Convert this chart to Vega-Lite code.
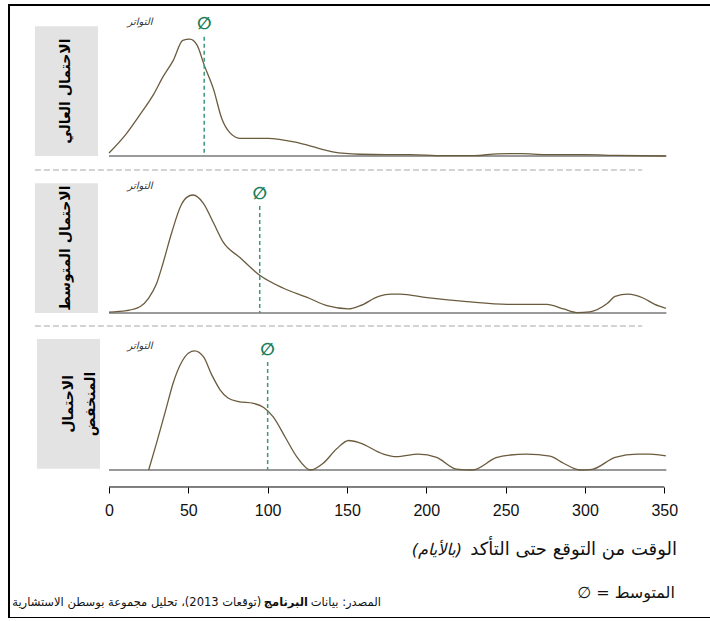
{
  "$schema": "https://vega.github.io/schema/vega-lite/v6.json",
  "width": 705,
  "height": 613,
  "autosize": {"type": "none"},
  "padding": {"left": 9, "top": 5, "right": 0, "bottom": 0},
  "background": "white",
  "config": {
    "view": {"stroke": "#000000", "strokeWidth": 2},
    "font": "Liberation Sans, DejaVu Sans",
    "text": {"font": "DejaVu Sans"}
  },
  "datasets": {
    "panels": [
      {"panel": "high", "label": "الاحتمال العالي", "mean": 60, "top": 1.01},
      {"panel": "med", "label": "الاحتمال المتوسط", "mean": 95, "top": 0.907},
      {"panel": "low", "label": "الاحتمال\nالمنخفض", "mean": 100, "top": 0.915}
    ],
    "curves": [
      {"panel": "high", "day": 0, "freq": 0.025},
      {"panel": "high", "day": 11, "freq": 0.19},
      {"panel": "high", "day": 19.5, "freq": 0.35},
      {"panel": "high", "day": 28, "freq": 0.52},
      {"panel": "high", "day": 34, "freq": 0.67},
      {"panel": "high", "day": 40.5, "freq": 0.81},
      {"panel": "high", "day": 46.5, "freq": 0.98},
      {"panel": "high", "day": 51, "freq": 0.99},
      {"panel": "high", "day": 55.5, "freq": 0.94},
      {"panel": "high", "day": 60, "freq": 0.77},
      {"panel": "high", "day": 66, "freq": 0.56},
      {"panel": "high", "day": 71, "freq": 0.32},
      {"panel": "high", "day": 76, "freq": 0.2},
      {"panel": "high", "day": 82.5, "freq": 0.15},
      {"panel": "high", "day": 100, "freq": 0.15},
      {"panel": "high", "day": 120, "freq": 0.11},
      {"panel": "high", "day": 141, "freq": 0.035},
      {"panel": "high", "day": 158, "freq": 0.015},
      {"panel": "high", "day": 175, "freq": 0.012},
      {"panel": "high", "day": 190, "freq": 0.012},
      {"panel": "high", "day": 210, "freq": 0.003},
      {"panel": "high", "day": 230, "freq": 0.003},
      {"panel": "high", "day": 245, "freq": 0.018},
      {"panel": "high", "day": 260, "freq": 0.02},
      {"panel": "high", "day": 275, "freq": 0.012},
      {"panel": "high", "day": 300, "freq": 0.012},
      {"panel": "high", "day": 320, "freq": 0.005},
      {"panel": "high", "day": 351, "freq": 0.0},
      {"panel": "med", "day": 0, "freq": 0.008},
      {"panel": "med", "day": 11, "freq": 0.02},
      {"panel": "med", "day": 19.5, "freq": 0.053},
      {"panel": "med", "day": 25, "freq": 0.127},
      {"panel": "med", "day": 30, "freq": 0.25},
      {"panel": "med", "day": 34, "freq": 0.42},
      {"panel": "med", "day": 39.5, "freq": 0.68},
      {"panel": "med", "day": 45.5, "freq": 0.915},
      {"panel": "med", "day": 49, "freq": 0.98},
      {"panel": "med", "day": 53, "freq": 1.0},
      {"panel": "med", "day": 59.5, "freq": 0.93},
      {"panel": "med", "day": 66, "freq": 0.76},
      {"panel": "med", "day": 72, "freq": 0.6},
      {"panel": "med", "day": 82.5, "freq": 0.47},
      {"panel": "med", "day": 95, "freq": 0.32},
      {"panel": "med", "day": 110, "freq": 0.21},
      {"panel": "med", "day": 124.5, "freq": 0.135},
      {"panel": "med", "day": 138, "freq": 0.06},
      {"panel": "med", "day": 151, "freq": 0.035},
      {"panel": "med", "day": 158, "freq": 0.06},
      {"panel": "med", "day": 170, "freq": 0.14},
      {"panel": "med", "day": 177.5, "freq": 0.16},
      {"panel": "med", "day": 183.5, "freq": 0.16},
      {"panel": "med", "day": 200.5, "freq": 0.13},
      {"panel": "med", "day": 225.5, "freq": 0.096},
      {"panel": "med", "day": 251, "freq": 0.073},
      {"panel": "med", "day": 276, "freq": 0.073},
      {"panel": "med", "day": 286.5, "freq": 0.034},
      {"panel": "med", "day": 295, "freq": 0.003},
      {"panel": "med", "day": 303, "freq": 0.01},
      {"panel": "med", "day": 314, "freq": 0.08},
      {"panel": "med", "day": 319, "freq": 0.14},
      {"panel": "med", "day": 327, "freq": 0.16},
      {"panel": "med", "day": 337, "freq": 0.125},
      {"panel": "med", "day": 344, "freq": 0.073},
      {"panel": "med", "day": 351, "freq": 0.04},
      {"panel": "low", "day": 25, "freq": 0.0},
      {"panel": "low", "day": 30, "freq": 0.23},
      {"panel": "low", "day": 36, "freq": 0.52},
      {"panel": "low", "day": 40.5, "freq": 0.74},
      {"panel": "low", "day": 46, "freq": 0.92},
      {"panel": "low", "day": 50, "freq": 0.99},
      {"panel": "low", "day": 54, "freq": 1.01},
      {"panel": "low", "day": 59.5, "freq": 0.96},
      {"panel": "low", "day": 65, "freq": 0.8},
      {"panel": "low", "day": 70, "freq": 0.68},
      {"panel": "low", "day": 75, "freq": 0.61},
      {"panel": "low", "day": 81.5, "freq": 0.58},
      {"panel": "low", "day": 91, "freq": 0.565},
      {"panel": "low", "day": 97.5, "freq": 0.53},
      {"panel": "low", "day": 103.5, "freq": 0.45},
      {"panel": "low", "day": 111, "freq": 0.28},
      {"panel": "low", "day": 118.5, "freq": 0.11},
      {"panel": "low", "day": 127, "freq": 0.0},
      {"panel": "low", "day": 135, "freq": 0.057},
      {"panel": "low", "day": 143.5, "freq": 0.18},
      {"panel": "low", "day": 151, "freq": 0.25},
      {"panel": "low", "day": 158, "freq": 0.23},
      {"panel": "low", "day": 173, "freq": 0.135},
      {"panel": "low", "day": 181, "freq": 0.113},
      {"panel": "low", "day": 195, "freq": 0.135},
      {"panel": "low", "day": 206.5, "freq": 0.107},
      {"panel": "low", "day": 219, "freq": 0.008},
      {"panel": "low", "day": 229, "freq": 0.0},
      {"panel": "low", "day": 244.5, "freq": 0.107},
      {"panel": "low", "day": 253, "freq": 0.127},
      {"panel": "low", "day": 263, "freq": 0.135},
      {"panel": "low", "day": 278, "freq": 0.118},
      {"panel": "low", "day": 286.5, "freq": 0.057},
      {"panel": "low", "day": 297, "freq": 0.0},
      {"panel": "low", "day": 304.5, "freq": 0.006},
      {"panel": "low", "day": 319, "freq": 0.107},
      {"panel": "low", "day": 333, "freq": 0.135},
      {"panel": "low", "day": 341, "freq": 0.135},
      {"panel": "low", "day": 351, "freq": 0.12}
    ]
  },
  "layer": [
    {
      "layer": [
        {
          "data": {"name": "panels"},
          "transform": [{"filter": "datum.panel === 'high'"}],
          "mark": {"type": "rect", "color": "#e3e3e3"},
          "encoding": {
            "x": {
              "datum": -46.7,
              "type": "quantitative",
              "scale": {"domain": [-63.03, 381.33], "nice": false, "zero": false},
              "axis": {
                "values": [0, 50, 100, 150, 200, 250, 300, 350],
                "domain": false,
                "grid": false,
                "ticks": true,
                "tickSize": 6,
                "tickColor": "#000000",
                "tickWidth": 1,
                "labelFont": "Liberation Sans",
                "labelFontSize": 16,
                "labelColor": "#111111",
                "labelPadding": 9,
                "title": null,
                "offset": -131
              }
            },
            "x2": {"datum": -6.9},
            "y": {"datum": 0, "type": "quantitative", "scale": {"domain": [-3.9153, 1.2797], "nice": false, "zero": false}, "axis": null},
            "y2": {"datum": 1.1}
          }
        },
        {
          "data": {"name": "panels"},
          "transform": [{"filter": "datum.panel === 'high'"}],
          "mark": {"type": "text", "angle": 270, "fontSize": 14, "fontWeight": "bold", "color": "#000000", "lineBreak": "\n", "align": "center", "baseline": "middle"},
          "encoding": {
            "x": {"datum": -26.8, "type": "quantitative"},
            "y": {"datum": 0.55, "type": "quantitative", "axis": null},
            "text": {"field": "label", "type": "nominal"}
          }
        },
        {
          "data": {"name": "panels"},
          "transform": [{"filter": "datum.panel === 'high'"}],
          "mark": {"type": "rule", "color": "#9a9a9a", "strokeWidth": 2},
          "encoding": {
            "x": {"datum": 0, "type": "quantitative"},
            "x2": {"datum": 351.3},
            "y": {"datum": 0, "type": "quantitative", "axis": null}
          }
        },
        {
          "data": {"name": "curves"},
          "transform": [{"filter": "datum.panel === 'high'"}],
          "mark": {"type": "line", "color": "#6b5b3e", "strokeWidth": 1.3, "interpolate": "monotone"},
          "encoding": {
            "x": {"field": "day", "type": "quantitative"},
            "y": {"field": "freq", "type": "quantitative", "axis": null}
          }
        },
        {
          "data": {"name": "panels"},
          "transform": [{"filter": "datum.panel === 'high'"}],
          "mark": {"type": "rule", "color": "#3a9a78", "strokeWidth": 1.5, "strokeDash": [4, 3]},
          "encoding": {
            "x": {"field": "mean", "type": "quantitative"},
            "y": {"field": "top", "type": "quantitative", "axis": null},
            "y2": {"datum": 0}
          }
        },
        {
          "data": {"name": "panels"},
          "transform": [{"filter": "datum.panel === 'high'"}],
          "mark": {"type": "text", "text": "∅", "fontSize": 17, "fontWeight": "bold", "color": "#1b7f5a", "dy": -13, "align": "center", "baseline": "middle"},
          "encoding": {
            "x": {"field": "mean", "type": "quantitative"},
            "y": {"field": "top", "type": "quantitative", "axis": null}
          }
        },
        {
          "data": {"name": "panels"},
          "transform": [{"filter": "datum.panel === 'high'"}],
          "mark": {"type": "text", "text": "التواتر", "fontSize": 10, "fontStyle": "italic", "color": "#333333", "align": "center", "baseline": "middle"},
          "encoding": {
            "x": {"datum": 19.5, "type": "quantitative"},
            "y": {"datum": 1.136, "type": "quantitative", "axis": null}
          }
        },
        {
          "data": {"name": "panels"},
          "transform": [{"filter": "datum.panel === 'high'"}],
          "mark": {"type": "rule", "color": "#a8a8a8", "strokeWidth": 1.2, "strokeDash": [6, 3]},
          "encoding": {
            "x": {"datum": -46.7, "type": "quantitative"},
            "x2": {"datum": 336.1},
            "y": {"datum": -0.1186, "type": "quantitative", "axis": null}
          }
        }
      ]
    },
    {
      "layer": [
        {
          "data": {"name": "panels"},
          "transform": [{"filter": "datum.panel === 'med'"}],
          "mark": {"type": "rect", "color": "#e3e3e3"},
          "encoding": {
            "x": {"datum": -46.7, "type": "quantitative"},
            "x2": {"datum": -6.9},
            "y": {"datum": 0, "type": "quantitative", "scale": {"domain": [-2.5847, 2.6102], "nice": false, "zero": false}, "axis": null},
            "y2": {"datum": 1.1}
          }
        },
        {
          "data": {"name": "panels"},
          "transform": [{"filter": "datum.panel === 'med'"}],
          "mark": {"type": "text", "angle": 270, "fontSize": 14, "fontWeight": "bold", "color": "#000000", "lineBreak": "\n", "align": "center", "baseline": "middle"},
          "encoding": {
            "x": {"datum": -26.8, "type": "quantitative"},
            "y": {"datum": 0.55, "type": "quantitative", "axis": null},
            "text": {"field": "label", "type": "nominal"}
          }
        },
        {
          "data": {"name": "panels"},
          "transform": [{"filter": "datum.panel === 'med'"}],
          "mark": {"type": "rule", "color": "#9a9a9a", "strokeWidth": 2},
          "encoding": {
            "x": {"datum": 0, "type": "quantitative"},
            "x2": {"datum": 351.3},
            "y": {"datum": 0, "type": "quantitative", "axis": null}
          }
        },
        {
          "data": {"name": "curves"},
          "transform": [{"filter": "datum.panel === 'med'"}],
          "mark": {"type": "line", "color": "#6b5b3e", "strokeWidth": 1.3, "interpolate": "monotone"},
          "encoding": {
            "x": {"field": "day", "type": "quantitative"},
            "y": {"field": "freq", "type": "quantitative", "axis": null}
          }
        },
        {
          "data": {"name": "panels"},
          "transform": [{"filter": "datum.panel === 'med'"}],
          "mark": {"type": "rule", "color": "#3a9a78", "strokeWidth": 1.5, "strokeDash": [4, 3]},
          "encoding": {
            "x": {"field": "mean", "type": "quantitative"},
            "y": {"field": "top", "type": "quantitative", "axis": null},
            "y2": {"datum": 0}
          }
        },
        {
          "data": {"name": "panels"},
          "transform": [{"filter": "datum.panel === 'med'"}],
          "mark": {"type": "text", "text": "∅", "fontSize": 17, "fontWeight": "bold", "color": "#1b7f5a", "dy": -12, "align": "center", "baseline": "middle"},
          "encoding": {
            "x": {"field": "mean", "type": "quantitative"},
            "y": {"field": "top", "type": "quantitative", "axis": null}
          }
        },
        {
          "data": {"name": "panels"},
          "transform": [{"filter": "datum.panel === 'med'"}],
          "mark": {"type": "text", "text": "التواتر", "fontSize": 10, "fontStyle": "italic", "color": "#333333", "align": "center", "baseline": "middle"},
          "encoding": {
            "x": {"datum": 19.5, "type": "quantitative"},
            "y": {"datum": 1.076, "type": "quantitative", "axis": null}
          }
        },
        {
          "data": {"name": "panels"},
          "transform": [{"filter": "datum.panel === 'med'"}],
          "mark": {"type": "rule", "color": "#a8a8a8", "strokeWidth": 1.2, "strokeDash": [6, 3]},
          "encoding": {
            "x": {"datum": -46.7, "type": "quantitative"},
            "x2": {"datum": 336.1},
            "y": {"datum": -0.11, "type": "quantitative", "axis": null}
          }
        }
      ]
    },
    {
      "layer": [
        {
          "data": {"name": "panels"},
          "transform": [{"filter": "datum.panel === 'low'"}],
          "mark": {"type": "rect", "color": "#e3e3e3"},
          "encoding": {
            "x": {"datum": -45.4, "type": "quantitative"},
            "x2": {"datum": -5.7},
            "y": {"datum": 0.01, "type": "quantitative", "scale": {"domain": [-1.2542, 3.9407], "nice": false, "zero": false}, "axis": null},
            "y2": {"datum": 1.11}
          }
        },
        {
          "data": {"name": "panels"},
          "transform": [{"filter": "datum.panel === 'low'"}],
          "mark": {"type": "text", "angle": 270, "fontSize": 14, "fontWeight": "bold", "color": "#000000", "lineBreak": "\n", "align": "center", "baseline": "middle", "lineHeight": 22},
          "encoding": {
            "x": {"datum": -25.5, "type": "quantitative"},
            "y": {"datum": 0.56, "type": "quantitative", "axis": null},
            "text": {"field": "label", "type": "nominal"}
          }
        },
        {
          "data": {"name": "panels"},
          "transform": [{"filter": "datum.panel === 'low'"}],
          "mark": {"type": "rule", "color": "#9a9a9a", "strokeWidth": 2},
          "encoding": {
            "x": {"datum": 0, "type": "quantitative"},
            "x2": {"datum": 351.3},
            "y": {"datum": 0, "type": "quantitative", "axis": null}
          }
        },
        {
          "data": {"name": "curves"},
          "transform": [{"filter": "datum.panel === 'low'"}],
          "mark": {"type": "line", "color": "#6b5b3e", "strokeWidth": 1.3, "interpolate": "monotone"},
          "encoding": {
            "x": {"field": "day", "type": "quantitative"},
            "y": {"field": "freq", "type": "quantitative", "axis": null}
          }
        },
        {
          "data": {"name": "panels"},
          "transform": [{"filter": "datum.panel === 'low'"}],
          "mark": {"type": "rule", "color": "#3a9a78", "strokeWidth": 1.5, "strokeDash": [4, 3]},
          "encoding": {
            "x": {"field": "mean", "type": "quantitative"},
            "y": {"field": "top", "type": "quantitative", "axis": null},
            "y2": {"datum": 0}
          }
        },
        {
          "data": {"name": "panels"},
          "transform": [{"filter": "datum.panel === 'low'"}],
          "mark": {"type": "text", "text": "∅", "fontSize": 17, "fontWeight": "bold", "color": "#1b7f5a", "dy": -12, "align": "center", "baseline": "middle"},
          "encoding": {
            "x": {"field": "mean", "type": "quantitative"},
            "y": {"field": "top", "type": "quantitative", "axis": null}
          }
        },
        {
          "data": {"name": "panels"},
          "transform": [{"filter": "datum.panel === 'low'"}],
          "mark": {"type": "text", "text": "التواتر", "fontSize": 10, "fontStyle": "italic", "color": "#333333", "align": "center", "baseline": "middle"},
          "encoding": {
            "x": {"datum": 19.5, "type": "quantitative"},
            "y": {"datum": 1.05, "type": "quantitative", "axis": null}
          }
        },
        {
          "data": {"name": "panels"},
          "transform": [{"filter": "datum.panel === 'low'"}],
          "mark": {"type": "rule", "color": "#000000", "strokeWidth": 1},
          "encoding": {
            "x": {"datum": 0, "type": "quantitative"},
            "x2": {"datum": 350},
            "y": {"datum": -0.144, "type": "quantitative", "axis": null}
          }
        },
        {
          "data": {"name": "panels"},
          "transform": [{"filter": "datum.panel === 'low'"}],
          "mark": {"type": "text", "text": "الوقت من التوقع حتى التأكد", "fontSize": 18, "color": "#111111", "align": "right", "baseline": "middle"},
          "encoding": {
            "x": {"datum": 358.0, "type": "quantitative"},
            "y": {"datum": -0.678, "type": "quantitative", "axis": null}
          }
        },
        {
          "data": {"name": "panels"},
          "transform": [{"filter": "datum.panel === 'low'"}],
          "mark": {"type": "text", "text": "(بالأيام)", "fontSize": 16, "fontStyle": "italic", "color": "#111111", "align": "right", "baseline": "middle"},
          "encoding": {
            "x": {"datum": 222.5, "type": "quantitative"},
            "y": {"datum": -0.678, "type": "quantitative", "axis": null}
          }
        },
        {
          "data": {"name": "panels"},
          "transform": [{"filter": "datum.panel === 'low'"}],
          "mark": {"type": "text", "text": "∅ = المتوسط", "fontSize": 16, "color": "#111111", "align": "right", "baseline": "middle"},
          "encoding": {
            "x": {"datum": 356.7, "type": "quantitative"},
            "y": {"datum": -1.042, "type": "quantitative", "axis": null}
          }
        },
        {
          "data": {"name": "panels"},
          "transform": [{"filter": "datum.panel === 'low'"}],
          "mark": {"type": "text", "text": "المصدر: بيانات", "fontSize": 11.5, "color": "#111111", "align": "right", "baseline": "middle"},
          "encoding": {
            "x": {"datum": 171.4, "type": "quantitative"},
            "y": {"datum": -1.127, "type": "quantitative", "axis": null}
          }
        },
        {
          "data": {"name": "panels"},
          "transform": [{"filter": "datum.panel === 'low'"}],
          "mark": {"type": "text", "text": "البرنامج", "fontSize": 11.5, "fontWeight": "bold", "color": "#111111", "align": "right", "baseline": "middle"},
          "encoding": {
            "x": {"datum": 125.4, "type": "quantitative"},
            "y": {"datum": -1.127, "type": "quantitative", "axis": null}
          }
        },
        {
          "data": {"name": "panels"},
          "transform": [{"filter": "datum.panel === 'low'"}],
          "mark": {"type": "text", "text": "\u200f(توقعات 2013)، تحليل مجموعة بوسطن الاستشارية", "fontSize": 11.5, "color": "#111111", "align": "right", "baseline": "middle"},
          "encoding": {
            "x": {"datum": 96.0, "type": "quantitative"},
            "y": {"datum": -1.127, "type": "quantitative", "axis": null}
          }
        }
      ]
    }
  ],
  "resolve": {"scale": {"y": "independent"}}
}
